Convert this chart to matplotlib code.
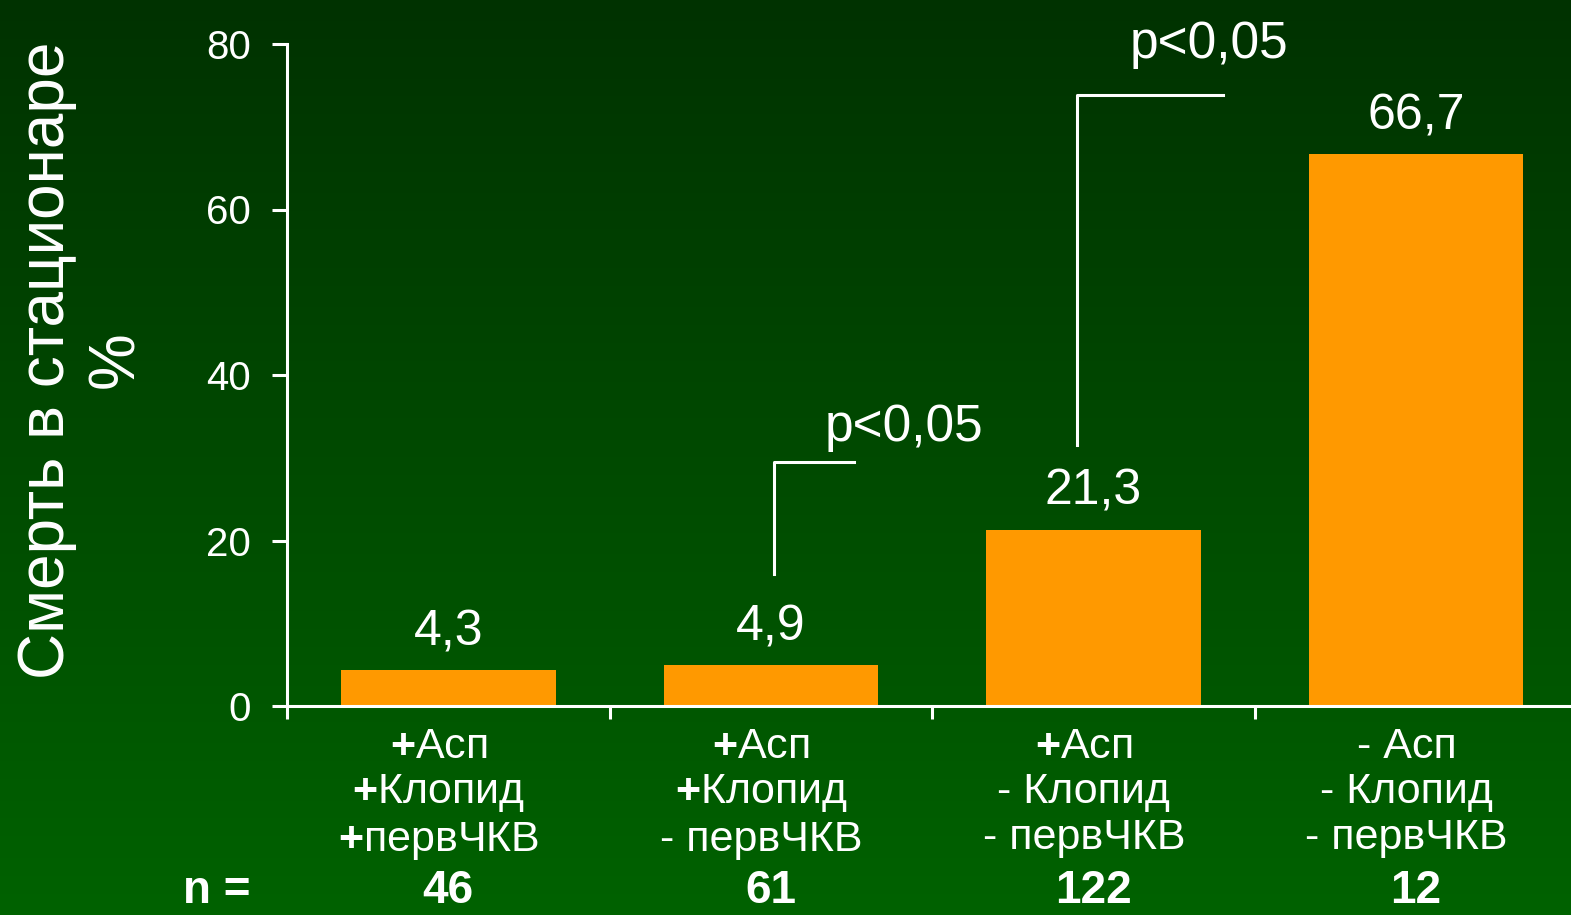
import numpy as np
import matplotlib
matplotlib.use("Agg")
import matplotlib.pyplot as plt
from matplotlib.transforms import blended_transform_factory

plt.rcParams['font.family'] = ['Liberation Sans', 'DejaVu Sans']
plt.rcParams['mathtext.fontset'] = 'custom'
plt.rcParams['mathtext.rm'] = 'Liberation Sans'
plt.rcParams['mathtext.bf'] = 'Liberation Sans:bold'

# in-hospital mortality by treatment group
groups = [
    "$\\mathbf{+}$Асп\n$\\mathbf{+}$Клопид\n$\\mathbf{+}$первЧКВ",
    "$\\mathbf{+}$Асп\n$\\mathbf{+}$Клопид\n- первЧКВ",
    "$\\mathbf{+}$Асп\n- Клопид\n- первЧКВ",
    "- Асп\n- Клопид\n- первЧКВ",
]
mortality = [4.3, 4.9, 21.3, 66.7]
value_labels = ["4,3", "4,9", "21,3", "66,7"]
n_patients = [46, 61, 122, 12]
y_ticks = [0, 20, 40, 60, 80]

# significance brackets: (x of vertical, y bottom, y top, x end, label x, label y)
brackets = [
    (1.01, 16.0, 29.5, 1.258, 1.413, 32.0),
    (1.95, 31.5, 73.8, 2.40, 2.358, 78.3),
]

W, H = 1571, 915
fig = plt.figure(figsize=(W / 100, H / 100), dpi=100)

# green vertical gradient background
bg = fig.add_axes([0, 0, 1, 1], zorder=-10)
top = np.array([0, 50, 0]) / 255
bottom = np.array([0, 98, 0]) / 255
t = np.linspace(0, 1, 256)[:, None]
grad = (top * (1 - t) + bottom * t)[:, None, :]
bg.imshow(grad, aspect='auto', extent=[0, 1, 0, 1])
bg.axis('off')

ax = fig.add_axes([287 / W, 209 / H, (W - 287) / W, 662 / H])
ax.patch.set_alpha(0)
x = np.arange(len(mortality))
ax.bar(x, mortality, width=0.665, color='#ff9900', zorder=2)
ax.set_xlim(-0.5, 3.48)
ax.set_ylim(0, 80)

for sp in ['top', 'right']:
    ax.spines[sp].set_visible(False)
for sp in ['left', 'bottom']:
    ax.spines[sp].set_color('white')
    ax.spines[sp].set_linewidth(2.2)

ax.set_yticks(y_ticks)
ax.tick_params(axis='y', colors='white', labelsize=29, length=11, width=2.2, pad=15)
ax.set_xticks([-0.5, 0.5, 1.5, 2.5])
ax.set_xticklabels([])
ax.tick_params(axis='x', colors='white', length=9, width=2.2, direction='out')

for xi, v, lab in zip(x, mortality, value_labels):
    ax.annotate(lab, (xi, v), xytext=(0, 18), textcoords='offset points',
                ha='center', va='baseline', color='white', fontsize=36)

for bx, y0, y1, xe, tx, ty in brackets:
    ax.plot([bx, bx, xe], [y0, y1, y1], color='white', lw=2.2, clip_on=False)
    ax.text(tx, ty, "p<0,05", ha='center', va='baseline', color='white',
            fontsize=37, clip_on=False)

tr = blended_transform_factory(ax.transData, fig.transFigure)
for xi, g, n in zip(x, groups, n_patients):
    ax.text(xi - 0.03, 1 - 727 / H, g, transform=tr, ha='center', va='top',
            color='white', fontsize=31, linespacing=1.17, multialignment='center')
    # patient counts along the bottom edge
    ax.text(xi, 2 / H, str(n), transform=tr, ha='center', va='bottom',
            color='white', fontsize=33, fontweight='bold')
fig.text(217 / W, 2 / H, "n =", ha='center', va='bottom',
         color='white', fontsize=33, fontweight='bold')

fig.text(82 / W, 1 - 360 / H, "Смерть в стационаре\n%", rotation=90,
         ha='center', va='center', color='white', fontsize=46,
         multialignment='center')

fig.savefig("out.png", dpi=100)
